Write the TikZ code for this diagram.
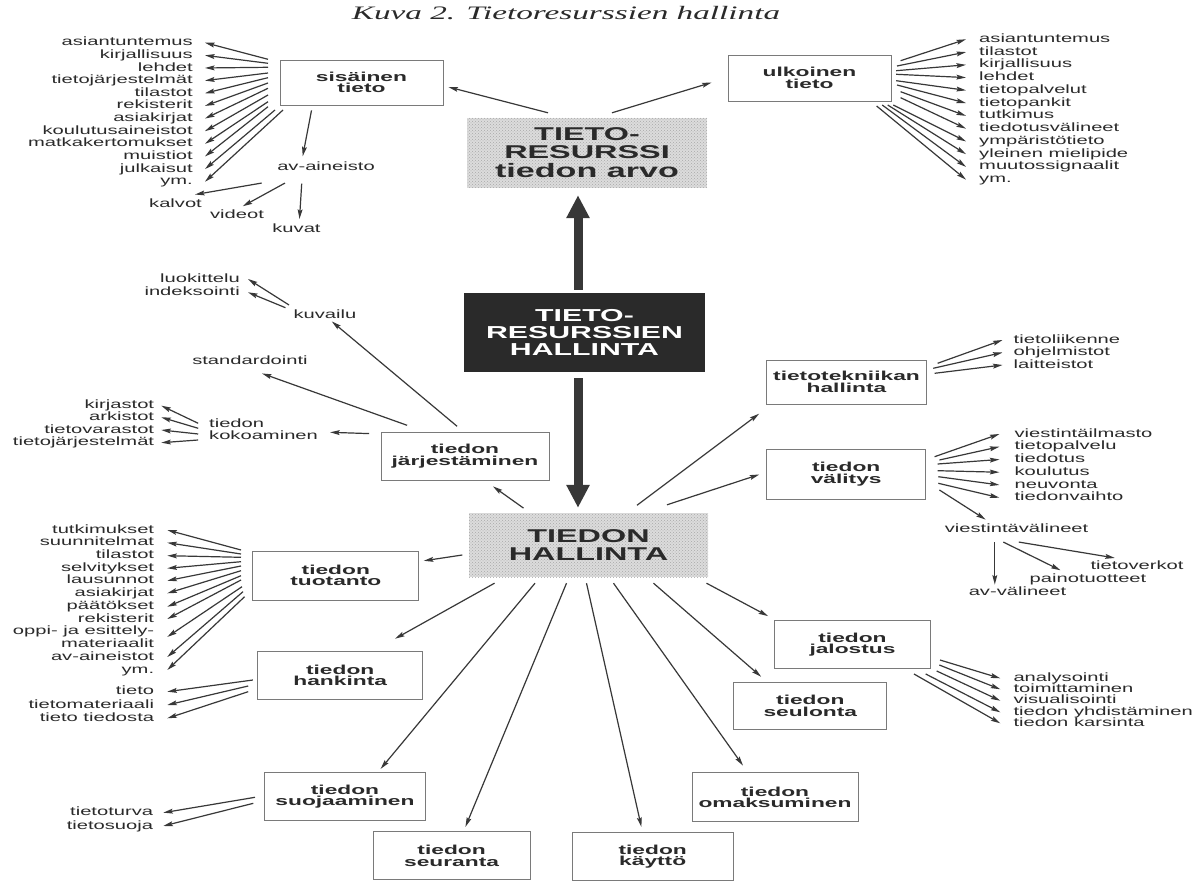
\documentclass[tikz,border=0pt]{standalone}
\usepackage{fontspec}
\setmainfont{Liberation Sans}[FakeStretch=1.75]
\newfontfamily\listfont{Liberation Sans}[FakeStretch=1.68]
\newfontfamily\titlefont{Liberation Serif}[FakeStretch=1.75]
\usetikzlibrary{arrows.meta,patterns}

\definecolor{ink}{HTML}{2A2A2A}
\definecolor{wire}{HTML}{383838}
\definecolor{boxline}{HTML}{7A7A7A}
\definecolor{screen}{HTML}{DCDCDC}
\definecolor{screendot}{HTML}{A8A8A8}
\definecolor{darkfill}{HTML}{2A2A2A}

\begin{document}
\begin{tikzpicture}[x=1pt,y=-1pt,
  arr/.style={draw=wire, line width=1.2pt, -{Stealth[length=9.5pt,width=4.8pt,inset=1.5pt]}},
  bigarr/.style={draw=wire, line width=9pt, -{Triangle[length=23pt,width=22pt]}},
  lst/.style={inner sep=0pt, text=ink, font=\listfont\fontsize{12}{12.6}\selectfont, text height=8.6pt, text depth=2.5pt},
  lstR/.style={lst, anchor=east},
  lstL/.style={lst, anchor=west},
  lsttwo/.style={inner sep=0pt, text=ink, font=\listfont\fontsize{12}{12.6}\selectfont},
  tbox/.style={draw=boxline, line width=0.8pt, fill=white, text=ink, align=center, inner sep=0pt,
               font=\bfseries\fontsize{13}{11.5}\selectfont},
  screenbox/.style={fill=screen, postaction={pattern=crosshatch dots, pattern color=screendot},
               text=ink, align=center, inner sep=0pt,
               font=\bfseries\fontsize{18.5}{18}\selectfont},
  darkbox/.style={fill=darkfill, text=white, align=center, inner sep=0pt,
               font=\bfseries\fontsize{17.3}{17}\selectfont},
]
% canvas
\fill[white] (0,0) rectangle (1199,882);
\useasboundingbox (0,0) rectangle (1199,882);

% title
\node[inner sep=0pt, text=ink, font=\titlefont\itshape\fontsize{19}{22}\selectfont] (title) at (566,13)
  {Kuva 2. Tietoresurssien hallinta};

% central column
\node[screenbox, minimum width=240pt, minimum height=70pt] (res) at (587,153)
  {TIETO-\\RESURSSI\\[1pt]{\fontsize{19.5}{20}\selectfont tiedon arvo}};
\node[darkbox, minimum width=241pt, minimum height=79pt] (drk) at (584.5,332.5)
  {TIETO-\\RESURSSIEN\\HALLINTA};
\node[screenbox, minimum width=239pt, minimum height=64pt] (hal) at (588.5,545)
  {TIEDON\\HALLINTA};

\coordinate (axis) at (578,0);
\draw[bigarr, shorten <=3pt, shorten >=7pt] (drk.north -| axis) -- (res.south -| axis);
\draw[bigarr, shorten <=6pt, shorten >=5pt] (drk.south -| axis) -- (hal.north -| axis);

% framed boxes
\node[tbox, minimum width=163pt, minimum height=45pt] (sis)  at (361.5,82.5) {sisäinen\\tieto};
\node[tbox, minimum width=163pt, minimum height=46pt] (ulk)  at (809.5,78)   {ulkoinen\\tieto};
\node[tbox, minimum width=168pt, minimum height=48pt] (jarj) at (465,456)    {tiedon\\järjestäminen};
\node[tbox, minimum width=160pt, minimum height=44pt] (ttk)  at (846.5,382)  {tietotekniikan\\hallinta};
\node[tbox, minimum width=159pt, minimum height=50pt] (val)  at (846.2,474)  {tiedon\\välitys};
\node[tbox, minimum width=166pt, minimum height=49pt] (tuot) at (335.8,575.4) {tiedon\\tuotanto};
\node[tbox, minimum width=165pt, minimum height=48pt] (hank) at (340.2,675.5) {tiedon\\hankinta};
\node[tbox, minimum width=161pt, minimum height=48pt] (suoj) at (345,796.7)  {tiedon\\suojaaminen};
\node[tbox, minimum width=157pt, minimum height=48pt] (seur) at (451.6,855.7) {tiedon\\seuranta};
\node[tbox, minimum width=161pt, minimum height=48pt] (kayt) at (652.7,856.7) {tiedon\\käyttö};
\node[tbox, minimum width=166pt, minimum height=49pt] (omak) at (775,797.2)  {tiedon\\omaksuminen};
\node[tbox, minimum width=156pt, minimum height=48pt] (jalo) at (852.5,644.5) {tiedon\\jalostus};
\node[tbox, minimum width=153pt, minimum height=47pt] (seul) at (810.3,706)  {tiedon\\seulonta};

% resource -> internal / external information
\draw[arr] ([xshift=-39pt,yshift=5pt]res.north) -- ([xshift=5pt,yshift=-4.5pt]sis.east);
\draw[arr] ([xshift=25pt,yshift=5pt]res.north) -- ([xshift=-16pt,yshift=-4.5pt]ulk.west);

% internal information list
\foreach \nn/\lbl in {1/asiantuntemus,2/kirjallisuus,3/lehdet,4/tietojärjestelmät,5/tilastot,
    6/rekisterit,7/asiakirjat,8/koulutusaineistot,9/matkakertomukset,10/muistiot,11/julkaisut,12/ym.}
  \node[lstR] (sl\nn) at (193,{42.7+12.64*(\nn-1)}) {\lbl};
\foreach \nn/\px/\py in {1/268/59.3,2/268/63.3,3/268/67.3,4/268/73,5/268/77.7,6/268/83,
    7/268/88.3,8/268/95,9/268/101.7,10/268/106.7,11/275/110,12/283/110}
  \coordinate (sl-t\nn) at (\px,\py);
\foreach \nn in {1,...,12}
  \draw[arr] (sl-t\nn) -- ([xshift=12pt]sl\nn.east);

% audiovisual material
\node[lst] (av) at (326,167.3) {av-aineisto};
\node[lst] (kalvot) at (175.5,204) {kalvot};
\node[lst] (videot) at (237,215.7) {videot};
\node[lst] (kuvat) at (296.5,229) {kuvat};
\draw[arr] ([xshift=-50pt,yshift=-5pt]sis.south) -- ([xshift=-23.3pt,yshift=5.3pt]av.north);
\draw[arr] ([xshift=-64.3pt,yshift=-10pt]av.south) -- ([xshift=-7pt,yshift=3.7pt]kalvot.north east);
\draw[arr] ([xshift=-41pt,yshift=-10pt]av.south) -- ([xshift=5.7pt,yshift=3.7pt]videot.north);
\draw[arr] ([xshift=-24.3pt,yshift=-10.6pt]av.south) -- ([xshift=3pt,yshift=4.3pt]kuvat.north);

% external information list
\foreach \nn/\lbl in {1/asiantuntemus,2/tilastot,3/kirjallisuus,4/lehdet,5/tietopalvelut,6/tietopankit,
    7/tutkimus,8/tiedotusvälineet,9/ympäristötieto,10/yleinen mielipide,11/muutossignaalit,12/ym.}
  \node[lstL] (ul\nn) at (979,{39.3+12.76*(\nn-1)}) {\lbl};
\foreach \nn/\px/\py in {1/900.6/60.7,2/897/66,3/896.2/70.7,4/896.2/74.3,5/896.2/80.7,6/897/85,
    7/900.6/91.7,8/900.6/97.7,9/893.3/105,10/887.7/105,11/882.2/105,12/876.6/106}
  \coordinate (ul-t\nn) at (\px,\py);
\foreach \nn in {1,...,12}
  \draw[arr] (ul-t\nn) -- ([xshift=-13pt]ul\nn.west);

% organising information
\node[lst] (kuv) at (325,315) {kuvailu};
\node[lstR] (luok) at (240,279) {luokittelu};
\node[lstR] (idx) at (240,292.3) {indeksointi};
\node[lst] (std) at (250,361.7) {standardointi};
\node[lsttwo, align=left, anchor=west] (kok) at (209,429.1) {tiedon\\kokoaminen};
\draw[arr, shorten >=1pt] ([xshift=-7.9pt,yshift=5.3pt]jarj.north) -- ([xshift=6pt]kuv.south);
\draw[arr] ([xshift=-57.9pt,yshift=6.3pt]jarj.north) -- ([xshift=12pt,yshift=-6pt]std.south);
\draw[arr] ([xshift=-11.4pt,yshift=-2pt]jarj.north west) -- ([xshift=12pt,yshift=-3.2pt]kok.east);
\draw[arr] ([xshift=-4.4pt,yshift=10pt]kuv.west) -- ([xshift=8pt]luok.east);
\draw[arr] ([xshift=-8pt,yshift=7.3pt]kuv.west) -- ([xshift=8pt]idx.east);

\foreach \nn/\lbl/\py in {1/kirjastot/405.7,2/arkistot/417.3,3/tietovarastot/430,4/tietojärjestelmät/442.7}
  \node[lstR] (kk\nn) at (154.3,\py) {\lbl};
\foreach \nn/\py in {1/423.3,2/428.3,3/434,4/440}
  \coordinate (kk-t\nn) at (198.2,\py);
\foreach \nn in {1,...,4}
  \draw[arr] (kk-t\nn) -- ([xshift=7pt]kk\nn.east);

% information technology management
\foreach \nn/\lbl in {1/tietoliikenne,2/ohjelmistot,3/laitteistot}
  \node[lstL] (tk\nn) at (1013.5,{340+12.5*(\nn-1)}) {\lbl};
\foreach \nn/\px/\py in {1/937.6/363.3,2/933.2/368.3,3/934.6/373.3}
  \coordinate (tk-t\nn) at (\px,\py);
\foreach \nn in {1,...,3}
  \draw[arr] (tk-t\nn) -- ([xshift=-11pt]tk\nn.west);

% distribution of information
\foreach \nn/\lbl in {1/viestintäilmasto,2/tietopalvelu,3/tiedotus,4/koulutus,5/neuvonta,6/tiedonvaihto}
  \node[lstL] (vl\nn) at (1014.4,{434+12.74*(\nn-1)}) {\lbl};
\foreach \nn/\px/\py in {1/934.6/456.7,2/939.4/460,3/937.6/464,4/937.6/470.7,5/938.3/476.7,6/938.3/483.3,7/939.4/490}
  \coordinate (vl-t\nn) at (\px,\py);
\foreach \nn in {1,...,6}
  \draw[arr] (vl-t\nn) -- ([xshift=-15pt]vl\nn.west);

\node[lst] (vv) at (1016.6,529.3) {viestintävälineet};
\node[lst] (avv) at (1017.5,592.7) {av-välineet};
\node[lst] (pt) at (1088,579.3) {painotuotteet};
\node[lst] (tv) at (1137,566.7) {tietoverkot};
\draw[arr] (vl-t7) -- ([xshift=-31pt,yshift=4pt]vv.north);
\draw[arr] ([xshift=-21.8pt,yshift=-7pt]vv.south) -- ([xshift=-22.7pt,yshift=2.3pt]avv.north);
\draw[arr] ([xshift=-13.3pt,yshift=-7pt]vv.south) -- ([xshift=-27.5pt,yshift=3.3pt]pt.north);
\draw[arr] ([xshift=2.2pt,yshift=-7pt]vv.south) -- ([xshift=-22.2pt,yshift=3pt]tv.north);

% information management -> activities
\draw[arr] ([xshift=-65pt,yshift=4.7pt]hal.north) -- ([xshift=28pt,yshift=-6pt]jarj.south);
\draw[arr] ([xshift=48.5pt,yshift=7.5pt]hal.north) -- ([xshift=-7pt,yshift=-9.3pt]ttk.south west);
\draw[arr] ([xshift=78.5pt,yshift=8pt]hal.north) -- ([xshift=-7pt,yshift=-0.5pt]val.west);
\draw[arr] ([xshift=-6.5pt,yshift=-10pt]hal.west) -- ([xshift=4.6pt,yshift=-10.3pt]tuot.north east);
\draw[arr] ([xshift=-94pt,yshift=-6pt]hal.south) -- ([xshift=-28pt,yshift=12.4pt]hank.north east);
\draw[arr] ([xshift=-53.5pt,yshift=-6pt]hal.south) -- ([xshift=35.6pt,yshift=3.4pt]suoj.north);
\draw[arr] ([xshift=-22pt,yshift=-6pt]hal.south) -- ([xshift=13.8pt,yshift=4.4pt]seur.north);
\draw[arr] ([xshift=-2pt,yshift=-6pt]hal.south) -- ([xshift=-11.3pt,yshift=5.4pt]kayt.north);
\draw[arr] ([xshift=25pt,yshift=-6pt]hal.south) -- ([xshift=-32pt,yshift=6.7pt]omak.north);
\draw[arr] ([xshift=65pt,yshift=-6pt]hal.south) -- ([xshift=27.7pt,yshift=5.4pt]seul.north west);
\draw[arr] ([xshift=118pt,yshift=-6pt]hal.south) -- ([xshift=-6pt,yshift=4pt]jalo.north west);

% production of information
\foreach \nn/\lbl/\py in {1/tutkimukset/530,2/suunnitelmat/542.7,3/tilastot/555.7,4/selvitykset/568.3,
    5/lausunnot/580.7,6/asiakirjat/593.3,7/päätökset/606.7,8/rekisterit/619,10/av-aineistot/657,11/ym./670}
  \node[lstR] (tu\nn) at (154.3,\py) {\lbl};
\node[lsttwo, align=right, anchor=east] (tu9) at (154.3,636.9) {oppi- ja esittely-\\materiaalit};
\foreach \nn/\px/\py in {1/241/550,2/241/554,3/241/557.3,4/241/561.7,5/241/566,6/241/570.7,
    7/241/575.7,8/241/580,9/242/586.7,10/243/591.7,11/244.6/596.7}
  \coordinate (tu-t\nn) at (\px,\py);
\foreach \nn in {1,...,11}
  \draw[arr] (tu-t\nn) -- ([xshift=13pt]tu\nn.east);

% acquisition of information
\foreach \nn/\lbl/\py in {1/tieto/691.7,2/tietomateriaali/705,3/tieto tiedosta/718.3}
  \node[lstR] (hk\nn) at (154.3,\py) {\lbl};
\foreach \nn/\px/\py in {1/252.9/680,2/248.2/686,3/248.2/691.7}
  \coordinate (hk-t\nn) at (\px,\py);
\foreach \nn in {1,...,3}
  \draw[arr] (hk-t\nn) -- ([xshift=13pt]hk\nn.east);

% protection of information
\node[lstR] (sj1) at (153.3,812.7) {tietoturva};
\node[lstR] (sj2) at (153.3,826) {tietosuoja};
\coordinate (sj-t1) at (255,797.3);
\coordinate (sj-t2) at (253.3,803.3);
\draw[arr] (sj-t1) -- ([xshift=10pt]sj1.east);
\draw[arr] (sj-t2) -- ([xshift=10pt]sj2.east);

% refining information
\foreach \nn/\lbl/\py in {1/analysointi/678.3,2/toimittaminen/689.3,3/visualisointi/700.7,
    4/tiedon yhdistäminen/712.3,5/tiedon karsinta/723.3}
  \node[lstL] (jl\nn) at (1013.3,\py) {\lbl};
\foreach \nn/\px/\py in {1/940/660,2/939.3/665,3/936.7/671,4/925.7/674,5/914/674}
  \coordinate (jl-t\nn) at (\px,\py);
\foreach \nn in {1,...,5}
  \draw[arr] (jl-t\nn) -- ([xshift=-13pt]jl\nn.west);
\end{tikzpicture}
\end{document}
